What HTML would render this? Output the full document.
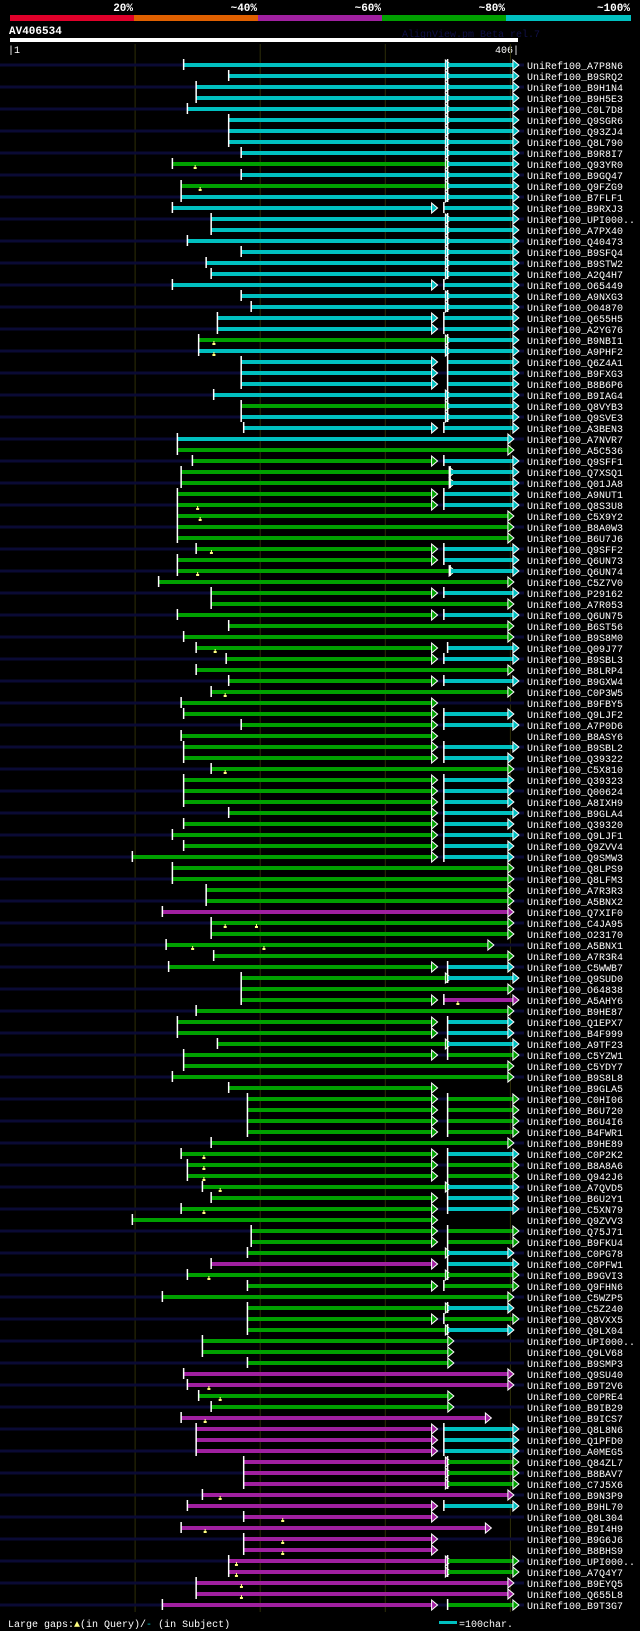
<!DOCTYPE html>
<html><head><meta charset="utf-8">
<style>
html,body{margin:0;padding:0;background:#000;}
svg{display:block;}
text{font-family:"Liberation Mono","DejaVu Sans Mono",monospace;}
</style></head>
<body>
<svg id="chart" width="640" height="1631" viewBox="0 0 640 1631" xmlns="http://www.w3.org/2000/svg">
<rect x="0" y="0" width="640" height="1631" fill="#000"/>
<g>
<rect x="10" y="15" width="124" height="6" fill="#e0002a"/>
<rect x="134" y="15" width="124" height="6" fill="#e06000"/>
<rect x="258" y="15" width="124" height="6" fill="#a020a0"/>
<rect x="382" y="15" width="124" height="6" fill="#00a000"/>
<rect x="506" y="15" width="125" height="6" fill="#00c0c0"/>
<text x="133" y="11" fill="#fff" font-size="11" font-weight="bold" text-anchor="end">20%</text>
<text x="257" y="11" fill="#fff" font-size="11" font-weight="bold" text-anchor="end">~40%</text>
<text x="381" y="11" fill="#fff" font-size="11" font-weight="bold" text-anchor="end">~60%</text>
<text x="505" y="11" fill="#fff" font-size="11" font-weight="bold" text-anchor="end">~80%</text>
<text x="630" y="11" fill="#fff" font-size="11" font-weight="bold" text-anchor="end">~100%</text>
</g>
<text x="9" y="34" fill="#fff" font-size="11" font-weight="bold">AV406534</text>
<text x="402" y="37" fill="#101048" font-size="10">AlignView.pm Beta rel.7</text>
<rect x="10" y="38" width="508" height="4" fill="#fff"/>
<text x="8" y="53" fill="#fff" font-size="10">|1</text>
<text x="519" y="53" fill="#fff" font-size="10" text-anchor="end">406|</text>
<g id="grid"></g>
<g id="rows"></g>
<g>
<text x="8" y="1627" fill="#fff" font-size="10">Large gaps:<tspan fill="#ffff80">▲</tspan>(in Query)/<tspan fill="#00c0c0">-</tspan> (in Subject)</text>
<rect x="439" y="1621" width="18" height="3" fill="#00c0c0"/>
<text x="459" y="1627" fill="#fff" font-size="10">=100char.</text>
</g>
</svg>
<script>
const names = ["A7P8N6","B9SRQ2","B9H1N4","B9H5E3","C0L7D8","Q9SGR6","Q93ZJ4","Q8L790","B9R8I7","Q93YR0","B9GQ47","Q9FZG9","B7FLF1","B9RXJ3","UPI000..","A7PX40","Q40473","B9SFQ4","B9STW2","A2Q4H7","O65449","A9NXG3","O04870","Q655H5","A2YG76","B9NBI1","A9PHF2","Q6Z4A1","B9FXG3","B8B6P6","B9IAG4","Q8VYB3","Q9SVE3","A3BEN3","A7NVR7","A5C536","Q9SFF1","Q7XSQ1","Q01JA8","A9NUT1","Q8S3U8","C5X9Y2","B8A0W3","B6U7J6","Q9SFF2","Q6UN73","Q6UN74","C5Z7V0","P29162","A7R053","Q6UN75","B6ST56","B9S8M0","Q09J77","B9SBL3","B8LRP4","B9GXW4","C0P3W5","B9FBY5","Q9LJF2","A7P0D6","B8ASY6","B9SBL2","Q39322","C5X810","Q39323","Q00624","A8IXH9","B9GLA4","Q39320","Q9LJF1","Q9ZVV4","Q9SMW3","Q8LPS9","Q8LFM3","A7R3R3","A5BNX2","Q7XIF0","C4JA95","O23170","A5BNX1","A7R3R4","C5WWB7","Q9SUD0","O64838","A5AHY6","B9HE87","Q1EPX7","B4F999","A9TF23","C5YZW1","C5YDY7","B9S8L8","B9GLA5","C0HI06","B6U720","B6U4I6","B4FWR1","B9HE89","C0P2K2","B8A8A6","Q942J6","A7QVD5","B6U2Y1","C5XN79","Q9ZVV3","Q75J71","B9FKU4","C0PG78","C0PFW1","B9GVI3","Q9FHN6","C5WZP5","C5Z240","Q8VXX5","Q9LX04","UPI000..","Q9LV68","B9SMP3","Q9SU40","B9T2V6","C0PRE4","B9IB29","B9ICS7","Q8L8N6","Q1PFD0","A0MEG5","Q84ZL7","B8BAV7","C7J5X6","B9N3P9","B9HL70","Q8L304","B9I4H9","B9G6J6","B8BHS9","UPI000..","A7Q4Y7","B9EYQ5","Q655L8","B9T3G7"];
const segStarts = [139,175,149,149,142,175,175,175,185,130,185,137,137,130,161,161,142,185,157,161,130,185,193,166,166,151,151,185,185,185,163,185,185,187,134,134,146,137,137,134,134,134,134,134,149,134,134,119,161,161,134,175,139,149,173,149,175,161,137,139,185,137,139,139,161,139,139,139,175,139,130,139,98,130,130,157,157,122,161,161,125,163,127,185,185,185,149,134,134,166,139,139,130,175,190,190,190,190,161,137,142,142,154,161,137,98,193,193,190,161,142,190,122,190,190,190,154,154,190,139,142,151,161,137,149,149,149,187,187,187,154,142,187,137,187,187,175,175,149,149,122];
const segEnds = [348,348,348,348,348,348,348,348,348,348,348,348,348,337,348,348,348,348,348,348,337,348,348,337,337,348,348,337,337,337,348,348,348,337,398,398,337,351,351,337,337,398,398,398,337,337,351,398,337,398,337,398,398,337,337,398,337,398,337,337,337,337,337,337,398,337,337,337,337,337,337,337,337,398,398,398,398,398,398,398,382,398,337,348,398,337,398,337,337,348,337,398,398,337,337,337,337,337,398,337,337,337,348,337,337,337,337,337,348,337,348,337,398,348,337,348,350,350,350,398,398,350,350,380,337,337,337,348,348,348,398,337,337,380,337,337,348,348,398,398,337];
const segColors = "cccccccccgcgcccccccccccccgcccccgcccggggggggggggggggggggggggggggggggggggggggggmgggggggggggggggggggggggggggggggmgggggggggmmggmmmmmmmmmmmmmmmmmmm";
const tailStarts = [350,350,350,350,350,350,350,350,350,350,350,350,350,347,350,350,350,350,350,350,347,350,350,347,347,350,350,350,350,350,350,350,350,347,0,0,347,352,352,347,347,0,0,0,347,347,352,0,347,0,347,0,0,350,347,0,347,0,0,347,347,0,347,347,0,347,347,347,347,347,347,347,347,0,0,0,0,0,0,0,0,0,350,350,0,347,0,350,350,350,350,0,0,0,350,350,350,350,0,350,350,350,350,350,350,0,350,350,350,350,350,347,0,350,347,350,0,0,0,0,0,0,0,0,347,347,347,350,350,350,0,347,0,0,0,0,350,350,0,0,350];
const tailEnds = [402,402,402,402,402,402,402,402,402,402,402,402,402,402,402,402,402,402,402,402,402,402,402,402,402,402,402,402,402,402,402,402,402,402,0,0,402,402,402,402,402,0,0,0,402,402,402,0,402,0,402,0,0,402,402,0,402,0,0,398,402,0,402,398,0,398,398,398,402,398,402,398,398,0,0,0,0,0,0,0,0,0,398,402,0,402,0,398,398,402,402,0,0,0,402,402,402,402,0,402,402,402,402,402,402,0,402,402,398,402,402,402,0,398,402,398,0,0,0,0,0,0,0,0,402,402,402,402,402,402,0,402,0,0,0,0,402,402,0,0,402];
const tailColors = "cccccccccc"+"cccccccccc"+"cccccccccc"+"cccc..cccc"+"c...ccc.c."+"c..cc.c..c"+"c.cc.ccccc"+"ccc......."+"..cc.m.ccc"+"g...gggg.c"+"ggccc.ggcc"+"gg.cgc...."+"....cccggg"+".c....gg..g";
const markerRows = [10,12,26,27,41,42,45,47,54,58,65,79,79,81,81,86,100,101,102,103,105,111,121,122,124,131,133,134,135,136,137,138,139,140];
const markerPos = [148,152,163,163,150,152,161,150,164,172,172,172,197,146,203,358,155,155,155,168,155,159,159,168,156,168,218,156,218,218,181,181,185,185];

const SVGNS = "http://www.w3.org/2000/svg";
const colorMap = {c:"#00c0c0", g:"#00a000", m:"#a020a0"};
function xScale(p){ return 10 + p * 1.251; }
function yRow(i){ return 65 + i * 11; }
function mk(tag, attrs, parent){
  const el = document.createElementNS(SVGNS, tag);
  for (const k in attrs) el.setAttribute(k, attrs[k]);
  parent.appendChild(el);
  return el;
}
const grid = document.getElementById('grid');
[100,200,300,400].forEach(function(p){
  const l = mk('rect', {x: xScale(p)-0.5, y: 44, width: 1, height: 1568, fill: '#2e2e08'}, grid);
  
  
});
const rowsG = document.getElementById('rows');
function drawSeg(g, s, e, col, y){
  const x1 = xScale(s), x2 = xScale(e);
  const bar = mk('rect', {x: x1, y: y-2, width: Math.max(1, x2-x1), height: 4, fill: col}, g);
  
  
  const tick = mk('rect', {x: x1-1, y: y-6, width: 1.5, height: 11, fill: '#fff'}, g);
  
  
  const tri = mk('polygon', {points: (x2)+','+(y-5)+' '+(x2+6)+','+y+' '+(x2)+','+(y+5), fill: col, stroke: '#fff', 'stroke-width': 1}, g);
  
  
}
names.forEach(function(n, i){
  const y = yRow(i);
  const g = mk('g', {}, rowsG);
  
  
  if (i % 2 === 0){
    const bg = mk('rect', {x: 0, y: y-1.5, width: 524, height: 3, fill: '#0a0a34'}, g);
    
    
  }
  drawSeg(g, segStarts[i], segEnds[i], colorMap[segColors[i]], y);
  if (tailEnds[i] > 0){
    drawSeg(g, tailStarts[i], tailEnds[i], colorMap[tailColors[i]] || '#00c0c0', y);
  }
  const t = mk('text', {x: 527, y: y+4, fill: '#fff', 'font-size': 10}, g);
  
  
  t.textContent = 'UniRef100_' + n;
});
markerRows.forEach(function(r, k){
  const y = yRow(r-1);
  const x = xScale(markerPos[k]);
  const m = mk('g', {}, rowsG);
  
  
  mk('rect', {x: x-0.5, y: y+1, width: 1, height: 3, fill: '#ffff80'}, m);
  mk('rect', {x: x-1.5, y: y+3, width: 3, height: 2, fill: '#ffff80'}, m);
});
</script>
</body></html>
